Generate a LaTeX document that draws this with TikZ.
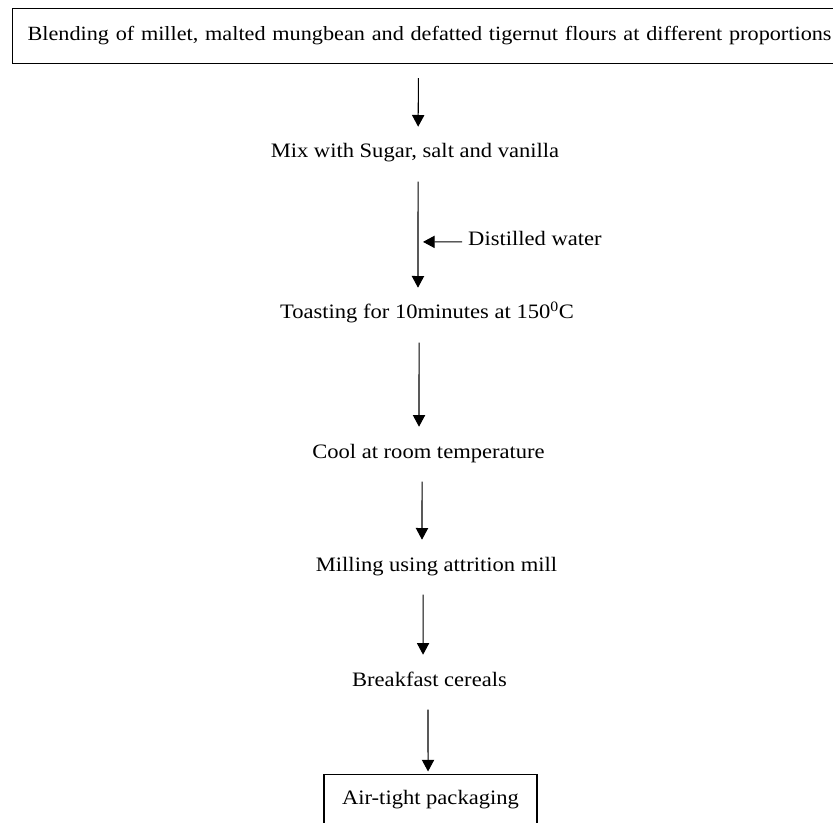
\documentclass[tikz,border=0pt]{standalone}
\usepackage{fontspec}
\setmainfont{Liberation Serif}[FakeStretch=1.1]
\usetikzlibrary{arrows.meta}

\begin{document}
\begin{tikzpicture}[x=0.03cm, y=-0.03cm,
    every node/.style={font=\fontsize{17.5}{21}\selectfont, inner sep=0pt, text height=11pt, text depth=4pt},
    stage/.style={anchor=base},
    frame/.style={draw, line width=0.9pt},
    flow/.style={line width=0.9pt, -{Triangle[width=10.5pt, length=10pt]}, shorten <=16pt, shorten >=15.5pt}]

        \useasboundingbox (0,0) rectangle (833,823);

        % Etapas
        \node[frame, anchor=north west, text width=24.3cm, align=left, inner xsep=12.8pt, minimum height=1.65cm, font=\fontsize{17.25}{21}\selectfont] (blend) at (12,8) {\mbox{Blending of millet, malted mungbean and defatted tigernut flours at different proportions}};
        \node[stage] (mix) at (415,158) {Mix with Sugar, salt and vanilla};
        \node[stage] (toast) at (427,319) {Toasting for 10minutes at 150\textsuperscript{0}C};
        \node[stage] (cool) at (428.5,458) {Cool at room temperature};
        \node[stage] (mill) at (436.5,571) {Milling using attrition mill};
        \node[stage] (cereal) at (429.5,686) {Breakfast cereals};
        \node[frame, stage, text height=20pt, text depth=22pt, inner ysep=4.8pt, minimum width=6.39cm] (pack) at (430.5,804) {Air-tight packaging};

        % Entrada de agua
        \node[anchor=base west] (water) at (468,246) {Distilled water};
        \coordinate (inlet) at (423,241.9);

        % Setas
        \draw[flow, shorten <=12pt] ([xshift=-12pt]blend.south) -- ([xshift=2.6pt]mix.north);
        \draw[flow] ([xshift=2.6pt]mix.south) -- ([xshift=-7.7pt]toast.north);
        \draw[flow] ([xshift=-6.8pt]toast.south) -- ([xshift=-8.1pt]cool.north);
        \draw[flow] ([xshift=-5.5pt]cool.south) -- ([xshift=-12.4pt]mill.north);
        \draw[flow] ([xshift=-11.5pt]mill.south) -- ([xshift=-5.5pt]cereal.north);
        \draw[flow, shorten >=2.5pt] ([xshift=-1.3pt]cereal.south) -- ([xshift=-2.1pt]pack.north);
        \draw[flow, shorten <=5pt, shorten >=0pt] (water.west) -- (inlet);

    \end{tikzpicture}
\end{document}
